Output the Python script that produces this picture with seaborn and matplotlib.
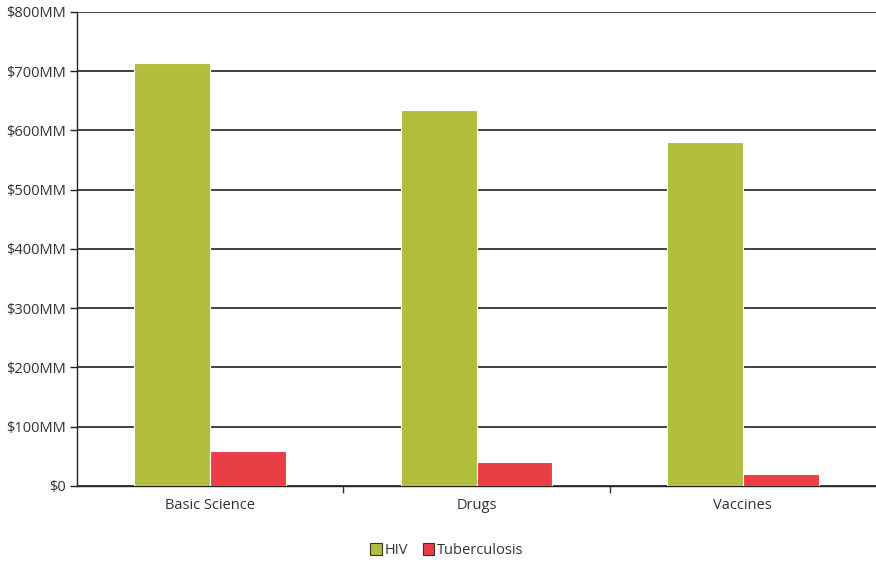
import pandas as pd
import matplotlib.pyplot as plt
import seaborn as sns
from matplotlib.ticker import FuncFormatter, FixedLocator

# Funding by research area (millions of USD)
categories = ["Basic Science", "Drugs", "Vaccines"]
hiv = [714, 635, 580]
tb = [59, 40, 20]
series = ["HIV", "Tuberculosis"]
colors = ["#B3BD3C", "#E93E44"]

df = pd.DataFrame({
    "Category": categories * 2,
    "Disease": [series[0]] * 3 + [series[1]] * 3,
    "Value": hiv + tb,
})

sns.set_theme(style="white")
plt.rcParams['font.family'] = ['Open Sans', 'DejaVu Sans']

fig = plt.figure(figsize=(8.76, 5.63), dpi=100)
ax = fig.add_axes([0.0879, 0.1368, 0.9121, 0.8419])

sns.barplot(data=df, x="Category", y="Value", hue="Disease", order=categories,
            hue_order=series, palette=colors, width=0.57, gap=0,
            edgecolor="white", linewidth=0.8, saturation=1, ax=ax, zorder=3)

ax.set_ylim(0, 800)
ax.set_xlim(-0.5, 2.5)
ax.set_yticks(range(0, 801, 100))
ax.yaxis.set_major_formatter(FuncFormatter(lambda v, p: f"${int(v)}MM" if v else "$0"))
ax.yaxis.grid(True, color="#222222", linewidth=1.2, zorder=0)
ax.set_axisbelow(True)

# category labels without ticks, separators as minor ticks
ax.tick_params(axis="x", which="major", length=0, pad=9, labelsize=10.5, labelcolor="#333333")
ax.xaxis.set_minor_locator(FixedLocator([0.5, 1.5]))
ax.tick_params(axis="x", which="minor", bottom=True, length=5, width=1, color="#333333",
               direction="out")
ax.tick_params(axis="y", left=True, length=5, width=1, color="#222222", direction="out", pad=3,
               labelsize=10.5, labelcolor="#333333")

ax.set_xlabel("")
ax.set_ylabel("")
for s in ["top", "right"]:
    ax.spines[s].set_visible(False)
ax.spines["left"].set_color("#222222")
ax.spines["bottom"].set_color("#222222")
ax.spines["left"].set_linewidth(1)
ax.spines["bottom"].set_linewidth(1)

handles, labels = ax.get_legend_handles_labels()
for h in handles:
    h.set_edgecolor("#333333")
    h.set_linewidth(0.8)
ax.get_legend().remove()
fig.legend(handles, labels, loc="center", bbox_to_anchor=(0.51, 0.022), ncol=2,
           frameon=False, fontsize=10.5, handlelength=0.8, handleheight=0.8,
           handletextpad=0.2, columnspacing=1.0, labelcolor="#333333")

plt.savefig("out.png", dpi=100)
